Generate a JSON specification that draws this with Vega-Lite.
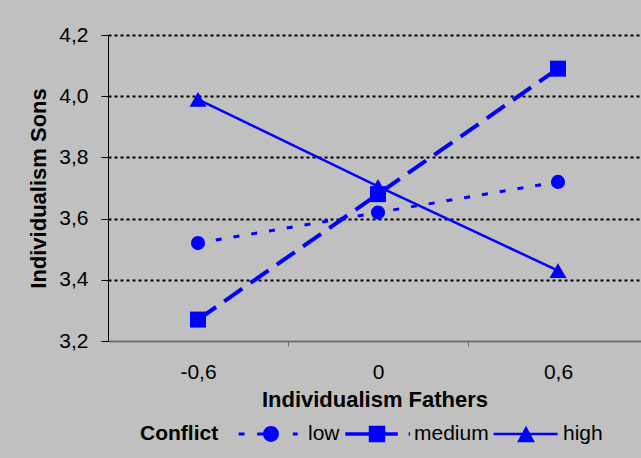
{
  "$schema": "https://vega.github.io/schema/vega-lite/v6.json",
  "width": 533,
  "height": 306,
  "autosize": {"type": "none"},
  "padding": {"left": 108, "top": 35, "right": 0, "bottom": 117},
  "background": "#c0c0c0",
  "data": {
    "values": [
      {"Fathers": -0.6, "Sons": 3.52, "Conflict": "low"},
      {"Fathers": 0, "Sons": 3.62, "Conflict": "low"},
      {"Fathers": 0.6, "Sons": 3.72, "Conflict": "low"},
      {"Fathers": -0.6, "Sons": 3.27, "Conflict": "medium"},
      {"Fathers": 0, "Sons": 3.68, "Conflict": "medium"},
      {"Fathers": 0.6, "Sons": 4.09, "Conflict": "medium"},
      {"Fathers": -0.6, "Sons": 3.99, "Conflict": "high"},
      {"Fathers": 0, "Sons": 3.705, "Conflict": "high"},
      {"Fathers": 0.6, "Sons": 3.43, "Conflict": "high"}
    ]
  },
  "encoding": {
    "x": {
      "field": "Fathers",
      "type": "quantitative",
      "title": "Individualism Fathers",
      "scale": {"domain": [-0.9, 0.8767], "nice": false, "zero": false},
      "axis": {
        "values": [-0.6, -0.3, 0, 0.3, 0.6],
        "labelExpr": "abs(datum.value) > 0.25 && abs(datum.value) < 0.35 ? '' : (datum.value == 0 ? '0' : (datum.value < 0 ? '-' : '') + replace(format(abs(datum.value), '.1f'), '.', ','))",
        "tickOpacity": {"condition": {"test": "abs(datum.value) > 0.25 && abs(datum.value) < 0.35", "value": 1}, "value": 0},
        "tickSize": 5,
        "tickColor": "#707070",
        "tickWidth": 1,
        "domainColor": "#707070",
        "domainWidth": 2,
        "grid": false,
        "labelFontSize": 21,
        "labelPadding": 15,
        "labelFlush": false,
        "labelOverlap": false,
        "titleFontSize": 22,
        "titlePadding": 7
      }
    },
    "y": {
      "field": "Sons",
      "type": "quantitative",
      "title": "Individualism Sons",
      "scale": {"domain": [3.2, 4.2], "nice": false, "zero": false},
      "axis": {
        "values": [3.2, 3.4, 3.6, 3.8, 4.0, 4.2],
        "labelExpr": "replace(format(datum.value, '.1f'), '.', ',')",
        "tickSize": 7,
        "tickColor": "#000000",
        "domainColor": "#000000",
        "domainWidth": 1,
        "grid": true,
        "gridColor": "#000000",
        "gridDash": [3, 3],
        "gridWidth": 2,
        "gridOpacity": {"condition": {"test": "datum.value < 3.3", "value": 0}, "value": 1},
        "labelFontSize": 21,
        "labelPadding": 13,
        "labelFlush": false,
        "labelOverlap": false,
        "titleFontSize": 22,
        "titlePadding": 8
      }
    }
  },
  "layer": [
    {
      "transform": [{"filter": "datum.Conflict == 'low'"}],
      "mark": {"type": "line", "color": "#0000ff", "strokeWidth": 3, "strokeDash": [6, 12]}
    },
    {
      "transform": [{"filter": "datum.Conflict == 'medium'"}],
      "mark": {"type": "line", "color": "#0000ff", "strokeWidth": 4, "strokeDash": [22, 10]}
    },
    {
      "transform": [{"filter": "datum.Conflict == 'high'"}],
      "mark": {"type": "line", "color": "#0000ff", "strokeWidth": 2.5}
    },
    {
      "transform": [{"filter": "datum.Conflict == 'low'"}],
      "mark": {"type": "point", "shape": "circle", "filled": true, "color": "#0000ff", "opacity": 1, "size": 200}
    },
    {
      "transform": [{"filter": "datum.Conflict == 'medium'"}],
      "mark": {"type": "point", "shape": "square", "filled": true, "color": "#0000ff", "opacity": 1, "size": 256}
    },
    {
      "transform": [{"filter": "datum.Conflict == 'high'"}],
      "mark": {"type": "point", "shape": "triangle-up", "filled": true, "color": "#0000ff", "opacity": 1, "size": 290}
    },
    {
      "mark": {"type": "point", "filled": true, "fill": "#0000ff", "strokeWidth": 0, "opacity": 0},
      "encoding": {
        "shape": {
          "field": "Conflict",
          "type": "nominal",
          "title": "Conflict",
          "scale": {
            "domain": ["low", "medium", "high"],
            "range": [
              "M-0.98,-0.045H-0.8V0.045H-0.98ZM-0.42,-0.045H-0.2V0.045H-0.42ZM0.24,0A0.24,0.24,0,1,1,-0.24,0A0.24,0.24,0,1,1,0.24,0ZM0.66,-0.045H0.81V0.045H0.66Z",
              "M-0.96,-0.055H-0.2V0.055H-0.96ZM-0.25,-0.25H0.25V0.25H-0.25ZM0.2,-0.055H0.63V0.055H0.2ZM0.96,-0.055H1V0.055H0.96Z",
              "M-0.98,-0.04H0.96V0.04H-0.98ZM0,-0.25L0.27,0.25L-0.27,0.25Z"
            ]
          }
        }
      }
    }
  ],
  "config": {
    "view": {"stroke": null},
    "font": "Liberation Sans",
    "axis": {
      "labelFont": "Liberation Sans",
      "titleFont": "Liberation Sans",
      "labelColor": "#000000",
      "titleColor": "#000000",
      "titleFontWeight": "bold"
    },
    "legend": {
      "orient": "none",
      "legendX": 32,
      "legendY": 366,
      "direction": "horizontal",
      "titleOrient": "left",
      "titleAnchor": "middle",
      "titleBaseline": "top",
      "titleFont": "Liberation Sans",
      "titleFontSize": 21,
      "titleFontWeight": "bold",
      "titleColor": "#000000",
      "titlePadding": 19,
      "labelFont": "Liberation Sans",
      "labelFontSize": 21,
      "labelColor": "#000000",
      "labelOffset": 4,
      "columnPadding": 4,
      "symbolSize": 4356,
      "symbolStrokeWidth": 0,
      "symbolOpacity": 1,
      "symbolFillColor": "#0000ff",
      "symbolStrokeColor": "#0000ff"
    }
  }
}
